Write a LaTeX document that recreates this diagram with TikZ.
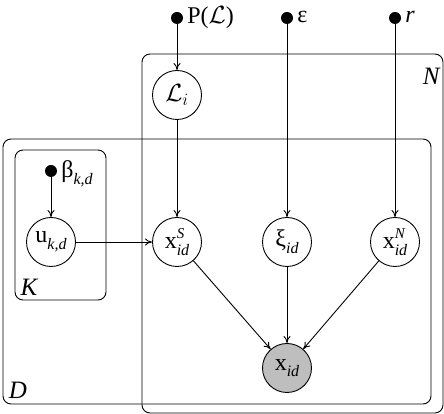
\documentclass[tikz,border=0pt]{standalone}
\usepackage{fontspec}
\setmainfont{Liberation Serif}
\usetikzlibrary{arrows.meta}
\newcommand{\sbi}[1]{\raisebox{-0.28em}{\fontsize{16}{16}\selectfont\itshape #1}}
\newcommand{\supsub}[2]{\rlap{\raisebox{0.42em}{\fontsize{15}{15}\selectfont\itshape #1}}\raisebox{-0.28em}{\fontsize{16}{16}\selectfont\itshape #2}}
\begin{document}
\begin{tikzpicture}[x=1pt,y=1pt,
  every node/.style={font=\fontsize{24}{26}\selectfont},
  var/.style={circle,draw,line width=0.9pt,minimum size=49pt,inner sep=0pt},
  obs/.style={var,fill={rgb,255:red,190;green,190;blue,190}},
  hyp/.style={circle,fill=black,minimum size=12pt,inner sep=0pt},
  plate/.style={draw,line width=0.9pt,rounded corners=8pt},
  edge/.style={line width=0.9pt,-{To[length=7pt,width=7pt]}},
  hlbl/.style={anchor=west,inner sep=0pt,xshift=4pt},
  lbl/.style={font=\fontsize{25}{26}\selectfont\itshape}]
\useasboundingbox (0,0) rectangle (444,414);
% plates
\draw[plate] (142,1) rectangle (443,360);
\draw[plate] (3,10) rectangle (431,275);
\draw[plate] (15,114) rectangle (106,264);
\node[lbl,anchor=east] at (443,338) {N};
\node[lbl] at (29,127) {K};
\node[lbl] at (18,24) {D};
% hyperparameters
\node[hyp] (p) at (177,396) {};
\node[hyp] (e) at (287,396) {};
\node[hyp] (r) at (395,396) {};
\node[hyp] (b) at (51,243) {};
\node[hlbl] at ([yshift=0pt]p.east) {P($\mathcal{L}$)};
\node[hlbl] at ([yshift=1pt]e.east) {ε};
\node[hlbl] at ([yshift=1pt]r.east) {\itshape r};
\node[hlbl] at ([yshift=-3pt]b.east) {β\sbi{k,d}};
% variables
\node[var] (L) at (177,319) {$\mathcal{L}_i$};
\node[var] (xs) at (177,172) {x\supsub{S}{id}};
\node[var] (xi) at (287,172) {ξ\sbi{id}};
\node[var] (xn) at (395,172) {x\supsub{N}{id}};
\node[var] (u) at (51,172) {u\sbi{k,d}};
\node[obs] (x) at (287,46) {x\sbi{id}};
% edges
\draw[edge] (p) -- (L);
\draw[edge] (L) -- (xs);
\draw[edge] (e) -- (xi);
\draw[edge] (r) -- (xn);
\draw[edge] (b) -- (u);
\draw[edge] (u) -- (xs);
\draw[edge] (xs) -- (x);
\draw[edge] (xi) -- (x);
\draw[edge] (xn) -- (x);
\end{tikzpicture}
\end{document}
